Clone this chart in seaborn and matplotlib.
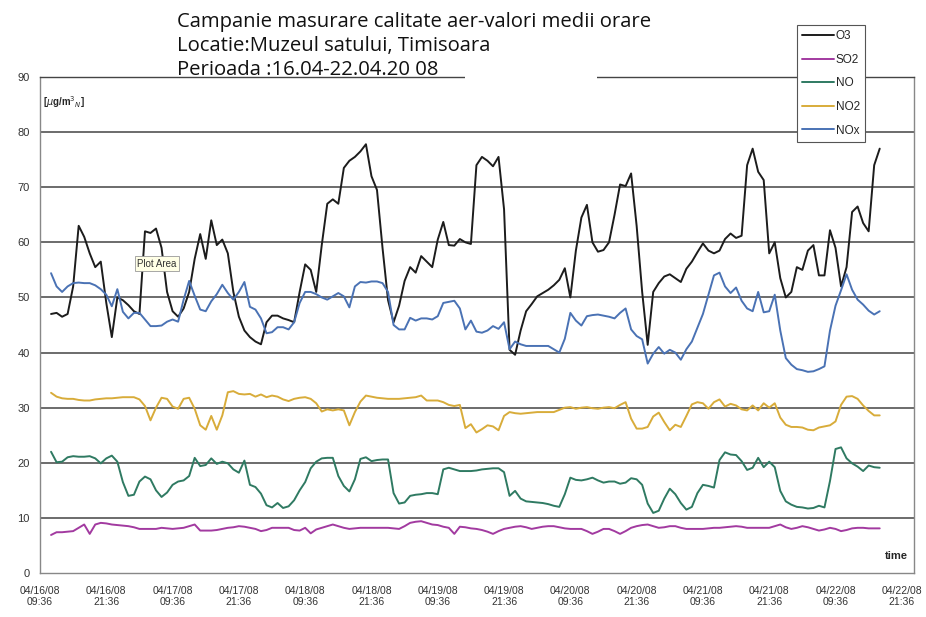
import numpy as np
import pandas as pd
import matplotlib
matplotlib.use("Agg")
import matplotlib.pyplot as plt
import seaborn as sns
from matplotlib.patches import Rectangle

# ore de la 04/16/08 09:36 (medii orare)
hours = list(range(2, 153))

o3 = [47, 47.2, 46.5, 47, 52, 63, 61, 58, 55.5, 56.5,
      49, 42.8, 50, 49.5, 48.6, 47.5, 47, 62, 61.7, 62.5,
      59, 51, 47.5, 46.5, 48, 51, 57, 61.5, 57, 64,
      59.5, 60.5, 58, 51, 46.5, 44, 42.8, 42, 41.5, 45.5,
      46.7, 46.7, 46.2, 45.9, 45.5, 51, 56, 55, 51, 59.5,
      67, 67.8, 67, 73.5, 74.8, 75.5, 76.5, 77.8, 72, 69.5,
      59, 49.5, 45.5, 48.5, 53, 55.5, 54.5, 57.5, 56.5, 55.5,
      60.5, 63.7, 59.5, 59.4, 60.6, 60, 59.7, 74, 75.5, 74.8,
      73.8, 75.5, 66, 40.5, 39.6, 44, 47.5, 48.8, 50.2, 50.8,
      51.4, 52.2, 53.2, 55.3, 50, 58.5, 64.5, 66.8, 60, 58.3,
      58.6, 60, 65, 70.5, 70.2, 72.5, 63, 51, 41.4, 51,
      52.6, 53.8, 54.2, 53.5, 52.8, 55.2, 56.5, 58.2, 59.8, 58.5,
      58, 58.5, 60.6, 61.6, 60.8, 61.2, 74, 77, 72.8, 71.3,
      58, 60, 53.5, 50, 51, 55.5, 55, 58.5, 59.5, 54,
      54, 62.2, 59, 52, 55.5, 65.5, 66.5, 63.5, 62, 74,
      77]

so2 = [6.9, 7.4, 7.4, 7.5, 7.6, 8.2, 8.8, 7.1, 8.8, 9.1,
       9, 8.8, 8.7, 8.6, 8.5, 8.3, 8, 8, 8, 8,
       8.2, 8.1, 8, 8.1, 8.2, 8.5, 8.8, 7.7, 7.7, 7.7,
       7.8, 8, 8.2, 8.3, 8.5, 8.4, 8.2, 8, 7.6, 7.8,
       8.2, 8.2, 8.2, 8.2, 7.8, 7.7, 8.2, 7.2, 7.9, 8.2,
       8.5, 8.8, 8.5, 8.2, 8, 8.1, 8.2, 8.2, 8.2, 8.2,
       8.2, 8.2, 8.1, 8, 8.5, 9.1, 9.3, 9.4, 9.1, 8.8,
       8.7, 8.4, 8.2, 7.1, 8.4, 8.3, 8.1, 8, 7.8, 7.5,
       7.1, 7.6, 8, 8.2, 8.4, 8.5, 8.3, 8, 8.2, 8.4,
       8.5, 8.5, 8.3, 8.1, 8, 8, 8, 7.6, 7.1, 7.5,
       8, 8, 7.6, 7.1, 7.6, 8.2, 8.5, 8.7, 8.8, 8.5,
       8.2, 8.3, 8.5, 8.5, 8.2, 8, 8, 8, 8, 8.1,
       8.2, 8.2, 8.3, 8.4, 8.5, 8.4, 8.2, 8.2, 8.2, 8.2,
       8.2, 8.5, 8.8, 8.3, 8, 8.2, 8.5, 8.3, 8, 7.7,
       7.9, 8.2, 8, 7.6, 7.8, 8.1, 8.2, 8.2, 8.1, 8.1,
       8.1]

no = [22, 20.1, 20.2, 21, 21.2, 21.1, 21.1, 21.2, 20.8, 19.9,
      20.8, 21.3, 20.2, 16.5, 14, 14.2, 16.6, 17.5, 17, 15,
      13.8, 14.6, 16, 16.6, 16.8, 17.6, 20.9, 19.4, 19.6, 20.8,
      19.8, 20.2, 19.9, 18.8, 18.2, 20.4, 16, 15.6, 14.4, 12.3,
      11.9, 12.7, 11.8, 12.1, 13.2, 15, 16.5, 19, 20.2, 20.8,
      20.9, 20.9, 17.6, 15.8, 14.8, 17, 20.7, 21, 20.3, 20.5,
      20.6, 20.6, 14.5, 12.6, 12.8, 14, 14.2, 14.3, 14.5, 14.5,
      14.3, 18.8, 19.1, 18.8, 18.5, 18.5, 18.5, 18.6, 18.8, 18.9,
      19, 19, 18.3, 14, 14.9, 13.5, 13, 12.9, 12.8, 12.7,
      12.5, 12.2, 12, 14.3, 17.3, 16.9, 16.8, 17, 17.3, 16.8,
      16.4, 16.6, 16.6, 16.2, 16.4, 17.2, 17, 16, 12.6, 10.9,
      11.3, 13.5, 15.3, 14.3, 12.7, 11.5, 12, 14.5, 16, 15.8,
      15.5, 20.5, 21.9, 21.5, 21.4, 20.3, 18.7, 19.1, 20.9, 19.2,
      20.2, 19.2, 14.9, 13, 12.4, 12, 11.9, 11.7, 11.8, 12.2,
      11.9, 16.7, 22.5, 22.8, 20.8, 19.9, 19.3, 18.5, 19.5, 19.2,
      19.1]

no2 = [32.7, 32, 31.7, 31.6, 31.6, 31.4, 31.3, 31.3, 31.5, 31.6,
       31.7, 31.7, 31.8, 31.9, 31.9, 31.9, 31.5, 30.3, 27.7, 30,
       31.8, 31.6, 30.2, 29.8, 31.6, 31.8, 29.8, 26.8, 26, 28.5,
       26, 28.6, 32.8, 33, 32.5, 32.4, 32.5, 32, 32.4, 31.9,
       32.2, 32, 31.5, 31.2, 31.6, 31.8, 31.9, 31.6, 30.8, 29.3,
       29.7, 29.5, 29.7, 29.5, 26.8, 29.2, 31.1, 32.2, 32, 31.8,
       31.7, 31.6, 31.6, 31.6, 31.7, 31.8, 31.9, 32.2, 31.3, 31.3,
       31.3, 31, 30.5, 30.3, 30.5, 26.3, 27, 25.5, 26.1, 26.8,
       26.6, 25.9, 28.5, 29.2, 29, 28.9, 29, 29.1, 29.2, 29.2,
       29.2, 29.2, 29.6, 30, 30.1, 29.8, 30, 30.1, 29.9, 29.8,
       30, 30.1, 29.9, 30.5, 31, 28, 26.2, 26.2, 26.5, 28.4,
       29.1, 27.4, 25.9, 26.9, 26.5, 28.5, 30.6, 31, 30.8, 29.8,
       31, 31.5, 30.2, 30.7, 30.4, 29.7, 29.5, 30.4, 29.5, 30.8,
       30, 30.8, 28.2, 26.9, 26.5, 26.5, 26.4, 26, 25.9, 26.4,
       26.6, 26.8, 27.5, 30.5, 32, 32.1, 31.6, 30.4, 29.4, 28.6,
       28.6]

nox = [54.4, 52, 51, 52, 52.6, 52.7, 52.6, 52.6, 52.2, 51.5,
       50.5, 48.4, 51.5, 47.4, 46.2, 47.2, 47.2, 46, 44.8, 44.8,
       44.9, 45.6, 46, 45.6, 49.6, 53, 50.3, 47.8, 47.5, 49.3,
       50.6, 52.3, 50.8, 49.6, 51, 52.8, 48.3, 47.8, 46.2, 43.5,
       43.7, 44.6, 44.6, 44.2, 45.5, 49, 51, 51, 50.6, 50,
       49.6, 50.2, 50.8, 50.2, 48.2, 52, 52.8, 52.7, 52.9, 52.9,
       52.6, 51, 45, 44.2, 44.2, 46.3, 45.8, 46.2, 46.2, 46,
       46.6, 49, 49.2, 49.4, 48, 44.2, 45.8, 43.8, 43.6, 44,
       44.8, 44.3, 45.5, 40.6, 42, 41.5, 41.2, 41.2, 41.2, 41.2,
       41.2, 40.6, 40, 42.5, 47.2, 45.8, 44.9, 46.6, 46.8, 46.9,
       46.7, 46.5, 46.2, 47.2, 48, 44.2, 43, 42.4, 38, 39.8,
       41, 39.8, 40.5, 40, 38.7, 40.6, 42, 44.5, 47, 50.5,
       54, 54.5, 52, 50.8, 51.8, 49.4, 48, 47.5, 51, 47.3,
       47.5, 50.5, 44, 39, 37.8, 37, 36.8, 36.5, 36.6, 37,
       37.5, 44, 48.5, 51.3, 54.2, 51.4, 49.6, 48.7, 47.6, 46.9,
       47.5]

series_names = ["O3", "SO2", "NO", "NO2", "NOx"]
colors = ["#1c1c1c", "#a23aa0", "#2f7a62", "#d8ac3a", "#4a72b4"]

tick_hours = list(range(0, 157, 12))
tick_labels = ["04/16/08\n09:36", "04/16/08\n21:36", "04/17/08\n09:36", "04/17/08\n21:36",
               "04/18/08\n09:36", "04/18/08\n21:36", "04/19/08\n09:36", "04/19/08\n21:36",
               "04/20/08\n09:36", "04/20/08\n21:36", "04/21/08\n09:36", "04/21/08\n21:36",
               "04/22/08\n09:36", "04/22/08\n21:36"]

title_lines = ["Campanie masurare calitate aer-valori medii orare",
               "Locatie:Muzeul satului, Timisoara",
               "Perioada :16.04-22.04.20 08"]

df = pd.DataFrame({"hour": hours, "O3": o3, "SO2": so2, "NO": no, "NO2": no2, "NOx": nox})
long = df.melt(id_vars="hour", var_name="serie", value_name="val")

sns.set_theme(style="white")
plt.rcParams["font.family"] = ["Liberation Sans", "DejaVu Sans"]

fig = plt.figure(figsize=(9.26, 6.17), dpi=100)
ax = fig.add_axes([0.0432, 0.0713, 0.9438, 0.8039])

sns.lineplot(data=long, x="hour", y="val", hue="serie", hue_order=series_names,
             palette=colors, linewidth=1.4, ax=ax)

ax.set_xlim(0, 158.2)
ax.set_ylim(0, 90)
ax.set_yticks(range(0, 91, 10))
ax.set_xticks(tick_hours)
ax.set_xticklabels(tick_labels, fontsize=7.5, color="#333333")
ax.tick_params(axis="y", labelsize=8, colors="#333333", direction="out", length=4, width=0.8)
ax.tick_params(axis="x", direction="out", length=4, width=0.8, pad=5)
ax.set_xlabel("")
ax.set_ylabel("")
for y in range(10, 90, 10):
    ax.axhline(y, color="#444444", lw=1.1, zorder=0)
for side in ["left", "bottom", "right", "top"]:
    ax.spines[side].set_color("#888888")
    ax.spines[side].set_linewidth(1.0)
ax.spines["top"].set_color("#444444")

ax.text(0.004, 0.965, r"[$\mu$g/m$^3$$_N$]", transform=ax.transAxes, fontsize=7,
        fontweight="bold", va="top", ha="left")
ax.text(0.993, 0.025, "time", transform=ax.transAxes, fontsize=8, fontweight="bold",
        ha="right", va="bottom")
ax.text(17.6, 56.1, "Plot Area", fontsize=7, color="#333333", ha="left", va="center",
        bbox=dict(boxstyle="square,pad=0.25", fc="#ffffe6", ec="#999999", lw=0.6))

# fasie alba peste linia de sus (ca in original)
fig.patches.append(Rectangle((465 / 926, 1 - 80 / 617), 132 / 926, 6 / 617,
                             transform=fig.transFigure, fc="white", ec="none", zorder=5))

for i, line in enumerate(title_lines):
    fig.text(177 / 926, 1 - (22 + i * 24) / 617, line, fontsize=14.6, va="center",
             ha="left", family=["Open Sans", "DejaVu Sans"], color="#111111", zorder=6)

handles, labels = ax.get_legend_handles_labels()
ax.legend(handles, labels, loc="upper left", bbox_to_anchor=(797 / 926, 1 - 25 / 617),
          bbox_transform=fig.transFigure, frameon=True, fancybox=False, edgecolor="#555555",
          fontsize=8.5, handlelength=2.7, handletextpad=0.15, labelspacing=0.98,
          borderpad=0.45, borderaxespad=0, framealpha=1)
ax.get_legend().get_frame().set_linewidth(0.8)

fig.savefig("out.png", dpi=100)
